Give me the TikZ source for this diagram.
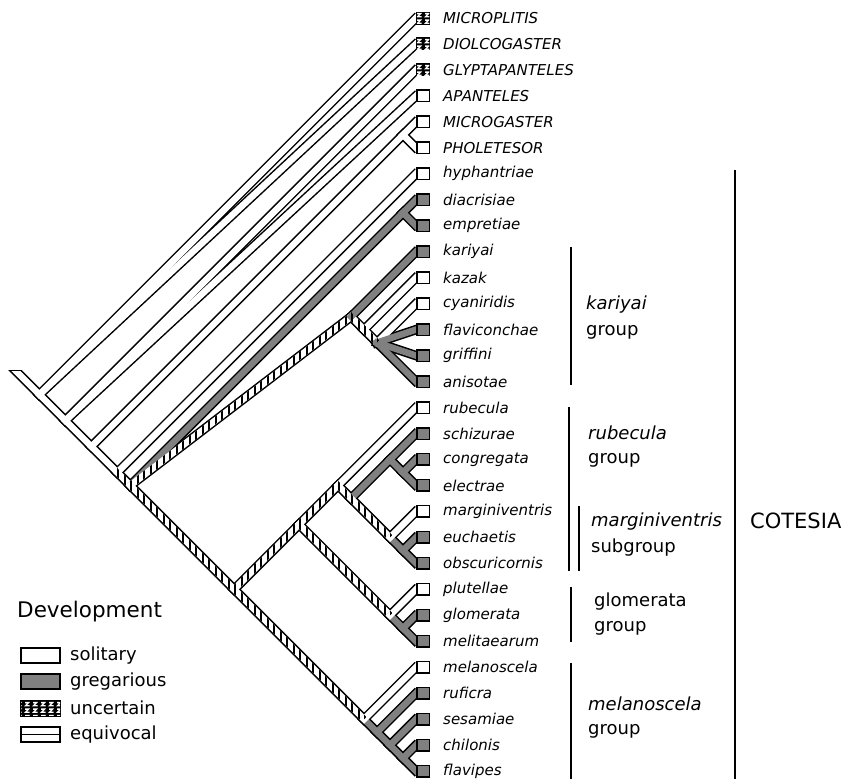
\documentclass[tikz,border=0pt]{standalone}
\usepackage{fontspec}
\setmainfont{DejaVu Sans}
\usetikzlibrary{calc,patterns}
\definecolor{gregcol}{gray}{0.5}

% vertical stripes for the equivocal branches
\pgfdeclarepatternformonly{vstripes}{\pgfpoint{-0.1pt}{-0.1pt}}{\pgfpoint{6.6pt}{6.6pt}}{\pgfpoint{6.5pt}{6.5pt}}{%
  \pgfpathrectangle{\pgfpoint{0pt}{-0.1pt}}{\pgfpoint{2pt}{6.7pt}}\pgfusepath{fill}}
% squiggles for the uncertain boxes
\pgfdeclarepatternformonly{qmarks}{\pgfpoint{-0.5pt}{-0.5pt}}{\pgfpoint{8.5pt}{7pt}}{\pgfpoint{8pt}{6.5pt}}{%
  \pgfsetlinewidth{1.4pt}
  \pgfpathmoveto{\pgfpoint{1pt}{4.8pt}}\pgfpathlineto{\pgfpoint{4.5pt}{4.8pt}}
  \pgfpathlineto{\pgfpoint{1.5pt}{1.7pt}}\pgfpathlineto{\pgfpoint{5.5pt}{1.7pt}}\pgfusepath{stroke}}

% node of a clade spanning taxa #2..#3
\newcommand\cladept[3]{\coordinate (#1) at ({416-12.985*(#3-#2)},{18+12.985*(#2+#3)});}

\def\taxa{MICROPLITIS/tipunc, DIOLCOGASTER/tipunc, GLYPTAPANTELES/tipunc, APANTELES/tipsol,
  MICROGASTER/tipsol, PHOLETESOR/tipsol, hyphantriae/tipsol, diacrisiae/tipgre, empretiae/tipgre,
  kariyai/tipgre, kazak/tipsol, cyaniridis/tipsol, flaviconchae/tipgre, griffini/tipgre, anisotae/tipgre,
  rubecula/tipsol, schizurae/tipgre, congregata/tipgre, electrae/tipgre, marginiventris/tipsol,
  euchaetis/tipgre, obscuricornis/tipgre, plutellae/tipsol, glomerata/tipgre, melitaearum/tipgre,
  melanoscela/tipsol, ruficra/tipgre, sesamiae/tipgre, chilonis/tipgre, flavipes/tipgre}
\def\innerlist{R/A2/sol, A2/A4/sol, A4/MP/sol, A4/C/sol, C/C1/equ, C1/DE/gre, C1/K/equ, K/KZ/equ,
  KZ/P/equ, C1/B/equ, B/M/equ, B/MS/equ, M/RM/equ, M/G/equ, RM/RS/equ, RS/SCE/gre, SCE/CE/gre,
  RS/MG/equ, MG/EO/gre, G/GM/gre, MS/RF/gre, RF/SF/gre, SF/CF/gre}
\def\tiplist{R/0/sol, R/1/sol, A2/2/sol, A2/3/sol, MP/4/sol, MP/5/sol, C/6/sol, DE/7/gre, DE/8/gre,
  K/9/gre, KZ/10/sol, P/11/sol, P/12/gre, P/13/gre, P/14/gre, RM/15/sol, SCE/16/gre, CE/17/gre,
  CE/18/gre, MG/19/sol, EO/20/gre, EO/21/gre, G/22/sol, GM/23/gre, GM/24/gre, MS/25/sol, RF/26/gre,
  SF/27/gre, CF/28/gre, CF/29/gre}
\def\hatchlist{C/C1, C1/K, K/KZ, KZ/P, C1/B, B/M, B/MS, M/RM, M/G, RM/RS, RS/MG}

\begin{document}
\begin{tikzpicture}[x=1pt, y=-1pt,
    bandout/.style={line width=9.5pt, black},
    bandin/.style={line width=6.5pt},
    sol/.style={draw=white}, gre/.style={draw=gregcol}, equ/.style={draw=white},
    tipbox/.style={draw, line width=1.5pt, minimum width=12.5pt, minimum height=11.5pt, inner sep=0pt},
    tipsol/.style={tipbox, fill=white}, tipgre/.style={tipbox, fill=gregcol},
    tipunc/.style={tipbox, fill=black, postaction={pattern=qmarks, pattern color=white}},
    taxon/.style={anchor=west, inner sep=0pt, font=\fontsize{15}{18}\selectfont\itshape},
    grp/.style={anchor=west, inner sep=0pt, font=\fontsize{18}{22}\selectfont},
    bar/.style={line width=2pt},
    legbox/.style={draw, line width=2pt, minimum width=39pt, minimum height=15pt, inner sep=0pt}]
\useasboundingbox (0,0) rectangle (846,779);

% Tips
\foreach \name/\st [count=\i from 0] in \taxa
  \coordinate (t\i) at (416,{18+25.97*\i});

% Internal nodes
\cladept{R}{0}{29}
\cladept{A2}{2}{29}
\cladept{A4}{4}{29}
\cladept{MP}{4}{5}
\cladept{C}{6}{29}
\cladept{C1}{7}{29}
\cladept{DE}{7}{8}
\cladept{K}{9}{14}
\cladept{KZ}{10}{14}
\cladept{P}{11}{14}
\cladept{B}{15}{29}
\cladept{M}{15}{24}
\cladept{RM}{15}{21}
\cladept{RS}{16}{21}
\cladept{SCE}{16}{18}
\cladept{CE}{17}{18}
\cladept{MG}{19}{21}
\cladept{EO}{20}{21}
\cladept{G}{22}{24}
\cladept{GM}{23}{24}
\cladept{MS}{25}{29}
\cladept{RF}{26}{29}
\cladept{SF}{27}{29}
\cladept{CF}{28}{29}

% Branch outlines
\begin{scope}
  \clip (0,370) rectangle (80,430);
  \draw[bandout] (R) -- ++(-40,-40);
\end{scope}
\foreach \p/\c/\s in \innerlist
  \draw[bandout] ($(\p)!-4.75pt!(\c)$) -- (\c);
\foreach \p/\c/\s in \tiplist
  \draw[bandout] ($(\p)!-4.75pt!(t\c)$) -- ($(t\c)!-3pt!(\p)$);

% Branch fills
\begin{scope}
  \clip (0,371.5) rectangle (80,430);
  \draw[bandin, sol] (R) -- ++(-40,-40);
\end{scope}
\foreach \p/\c/\s in \innerlist
  \draw[bandin, \s] ($(\p)!-3.25pt!(\c)$) -- (\c);
\foreach \p/\c/\s in \tiplist
  \draw[bandin, \s] ($(\p)!-3.25pt!(t\c)$) -- ($(t\c)!-3pt!(\p)$);

% Hatching
\foreach \p/\c in \hatchlist {
  \coordinate (hs) at ($(\p)!-3.25pt!(\c)$);
  \fill[pattern=vstripes] ($(hs)!3.25pt!90:(\c)$) -- ($(\c)!3.25pt!-90:(hs)$)
    -- ($(\c)!3.25pt!90:(hs)$) -- ($(hs)!3.25pt!-90:(\c)$) -- cycle;
}

% Tip boxes and names
\foreach \name/\st [count=\i from 0] in \taxa {
  \node[\st] (b\i) at (423,{18+25.97*\i}) {};
  \node[taxon] (n\i) at (443,{18+25.97*\i}) {\name};
}

% Groups
\draw[bar] (571,247) -- (571,385);
\node[grp, font=\fontsize{18}{22}\selectfont\itshape] (gkar) at (586,305) {kariyai};
\node[grp] (gkar2) at (586,332) {group};
\draw[bar] (569,407) -- (569,571);
\node[grp, font=\fontsize{18}{22}\selectfont\itshape] (grub) at (588,433) {rubecula};
\node[grp] (grub2) at (588,460) {group};
\draw[bar] (578.5,506) -- (578.5,571);
\node[grp, font=\fontsize{18}{22}\selectfont\itshape] (gmar) at (591,522) {marginiventris};
\node[grp] (gmar2) at (591,548) {subgroup};
\draw[bar] (571,587) -- (571,642);
\node[grp] (sglo) at (594,602) {glomerata};
\node[grp] (sglo2) at (594,628) {group};
\draw[bar] (571,663) -- (571,779);
\node[grp, font=\fontsize{18}{22}\selectfont\itshape] (gmel) at (588,704) {melanoscela};
\node[grp] (gmel2) at (588,731) {group};
\draw[bar] (735,170) -- (735,779);
\node[grp, font=\fontsize{21}{25}\selectfont] (cot) at (750,521) {COTESIA};

% Legend
\node[grp, font=\fontsize{21.5}{26}\selectfont] (dev) at (17,612) {Development};
\node[legbox, fill=white] (lsol) at (40.5,655.5) {};
\node[legbox, fill=gregcol] (lgre) at (40.5,681.5) {};
\node[legbox, fill=black, postaction={pattern=qmarks, pattern color=white}] (lunc) at (40.5,708) {};
\node[legbox, fill=white] (lequ) at (40.5,734.5) {};
\draw[line width=1.5pt] (lequ.west) -- (lequ.east);
\node[grp] (tsol) at (70,655.5) {solitary};
\node[grp] (tgre) at (70,681.5) {gregarious};
\node[grp] (tunc) at (70,708) {uncertain};
\node[grp] (tequ) at (70,734.5) {equivocal};
\end{tikzpicture}
\end{document}
